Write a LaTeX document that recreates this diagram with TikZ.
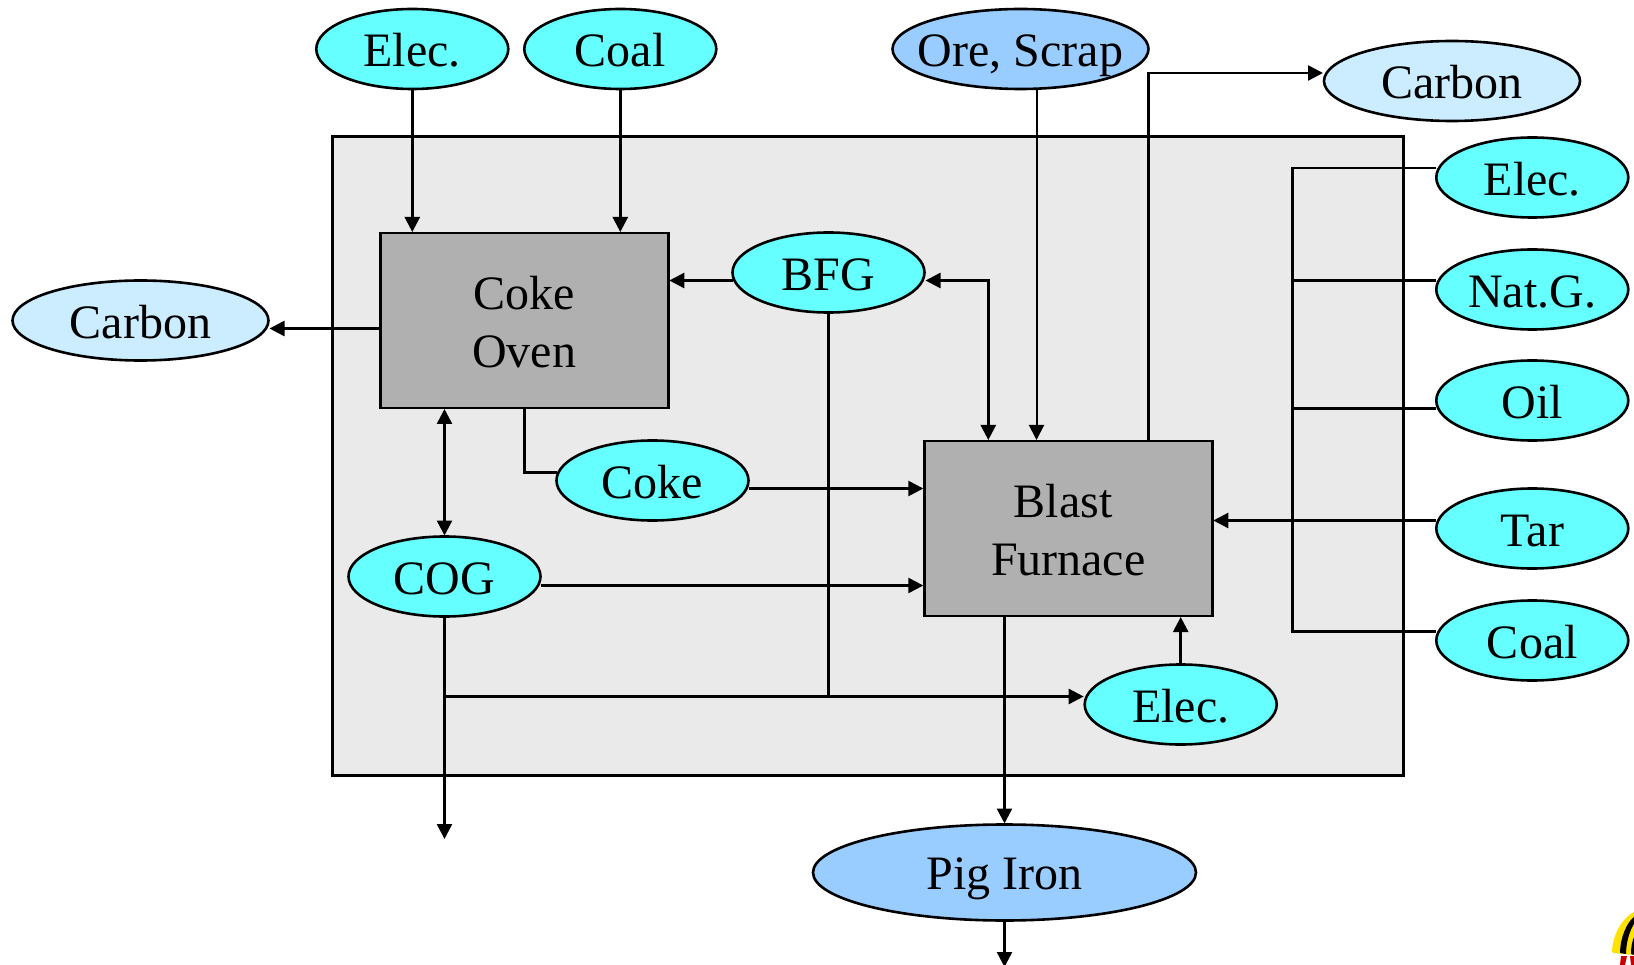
\documentclass[tikz,border=0pt]{standalone}
\usepackage{fontspec}
\setmainfont{Liberation Serif}
\usetikzlibrary{shapes.geometric,arrows.meta,positioning}
\definecolor{fuelcyan}{HTML}{66FFFF}
\definecolor{oreblue}{HTML}{99CCFF}
\definecolor{carbonblue}{HTML}{CCECFF}
\definecolor{unitgray}{HTML}{B0B0B0}
\definecolor{plantgray}{HTML}{EAEAEA}
\tikzset{
  oval/.style={draw, ellipse, line width=2.6pt, outer sep=0pt, inner sep=0pt, minimum width=192pt, minimum height=80pt, text height=36pt, text depth=0pt, fill=fuelcyan, font=\fontsize{48}{58}\selectfont},
  wideoval/.style={oval, inner xsep=-20pt, minimum width=256pt},
  unit/.style={draw, rectangle, line width=2.6pt, outer sep=0pt, inner sep=0pt, minimum width=288pt, minimum height=175pt, fill=unitgray, align=center, font=\fontsize{48}{58}\selectfont},
  flow/.style={-{Triangle[length=15pt,width=15pt]}, line width=2.5pt, shorten >=1pt},
  twoway/.style={{Triangle[length=15pt,width=15pt]}-{Triangle[length=15pt,width=15pt]}, line width=2.5pt, shorten >=1pt, shorten <=1pt},
  bus/.style={line width=2.5pt}
}
\begin{document}
\begin{tikzpicture}[x=1pt,y=-1pt]
  \useasboundingbox (0,0) rectangle (1634,965);

  % Plant boundary
  \node[draw, rectangle, line width=2.6pt, outer sep=0pt, minimum width=1071pt, minimum height=639pt, fill=plantgray] (Plant) at (868,456) {};

  % Process units
  \node[unit] (CokeOven) at (524.3,320.5) {\rule{0pt}{36pt}Coke\\Oven};
  \node[unit] (BlastFurnace) at (1068.3,528.5) {\rule{0pt}{36pt}Blast\hspace*{10pt}\\Furnace};

  % Inputs on top
  \node[oval] (ElecTop) at (412.3,49) {Elec.};
  \node[oval, right=16pt of ElecTop] (CoalTop) {Coal};
  \node[wideoval, fill=oreblue] (OreScrap) at (1020.5,49) {Ore, Scrap};

  % Carbon outputs
  \node[wideoval, fill=carbonblue] (CarbonRight) at (1452,81) {Carbon};
  \node[wideoval, fill=carbonblue] (CarbonLeft) at (140.5,320.5) {Carbon};

  % Fuels on the right
  \node[oval] (ElecRight) at (1532.3,177.5) {Elec.};
  \node[oval, below=32pt of ElecRight] (NatGas) {Nat.G.};
  \node[oval, below=31pt of NatGas] (OilRight) {Oil};
  \node[oval, below=48pt of OilRight] (TarRight) {Tar};
  \node[oval, below=32pt of TarRight] (CoalRight) {Coal};

  % Inner ovals
  \node[oval] (BFG) at (828.5,272.5) {BFG};
  \node[oval] (Coke) at (652.5,480.5) {Coke};
  \node[oval] (COG) at (444.5,576.5) {COG};
  \node[oval] (ElecLow) at (1180.7,704.5) {Elec.};

  % Pig iron
  \node[oval, text height=33pt, minimum width=383pt, minimum height=96pt, fill=oreblue] (PigIron) at (1004.5,872.5) {Pig Iron};

  % Free ends
  \coordinate (BusTop) at (1292.5,168);
  \coordinate (COGOut) at (444.5,840);
  \coordinate (PigOut) at (1004.5,967);

  % Inputs to the units
  \draw[flow] (ElecTop.south) -- (ElecTop.south |- CokeOven.north);
  \draw[flow] (CoalTop.south) -- (CoalTop.south |- CokeOven.north);
  \draw[flow, line width=2pt] ([xshift=16pt]OreScrap.south) -- ([xshift=16pt]OreScrap.south |- BlastFurnace.north);

  % Carbon outputs
  \draw[flow] ([xshift=80pt]BlastFurnace.north) |- ([yshift=8pt]CarbonRight.west);
  \draw[flow] ([yshift=-8pt]CokeOven.west) -- ([yshift=-8pt]CarbonLeft.east);

  % Fuel bus on the right
  \draw[bus] ([yshift=9.5pt]ElecRight.west) -- (BusTop) |- ([yshift=9pt]CoalRight.west);
  \draw[bus] ([yshift=9pt]NatGas.west) -- ([yshift=9pt]NatGas.west -| BusTop);
  \draw[bus] ([yshift=-8pt]OilRight.west) -- ([yshift=-8pt]OilRight.west -| BusTop);
  \draw[flow] ([yshift=8pt]TarRight.west) -- ([yshift=8pt]TarRight.west -| BlastFurnace.east);

  % Gases
  \draw[flow] ([yshift=-8pt]BFG.west) -- ([yshift=-8pt]BFG.west -| CokeOven.east);
  \draw[twoway] ([yshift=-8pt]BFG.east) -| ([xshift=-80pt]BlastFurnace.north);
  \draw[bus] (BFG.south) -- ([yshift=8pt]BFG.south |- ElecLow.west);
  \draw[twoway] (COG.north) -- (COG.north |- CokeOven.south);
  \draw[flow] (COG.south) -- (COGOut);
  \draw[flow] ([yshift=8pt]COG.south |- ElecLow.west) -- ([yshift=8pt]ElecLow.west);
  \draw[flow] (ElecLow.north) -- (ElecLow.north |- BlastFurnace.south);

  % Coke and COG to the furnace
  \draw[bus] (CokeOven.south) |- ([yshift=8pt]Coke.west);
  \draw[flow] ([yshift=-8pt]Coke.east) -- ([yshift=-8pt]Coke.east -| BlastFurnace.west);
  \draw[flow] ([yshift=-9pt]COG.east) -- ([yshift=-9pt]COG.east -| BlastFurnace.west);

  % Pig iron out
  \draw[flow] (PigIron.north |- BlastFurnace.south) -- (PigIron.north);
  \draw[flow, shorten >=0pt] (PigIron.south) -- (PigOut);

  % Logo in the corner
  \fill[yellow!85!orange] (1612,951) .. controls (1613,932) and (1624,917) .. (1634,912) -- (1634,955) -- (1613,953) -- cycle;
  \fill[black] (1620,953) .. controls (1620,938) and (1627,922) .. (1634,917) -- (1634,924) .. controls (1630,930) and (1626,942) .. (1626,954) -- cycle;
  \fill[black] (1631,954) .. controls (1631,947) and (1632,942) .. (1634,937) -- (1634,955) -- cycle;
  \fill[red!80!black] (1621,956) -- (1627,956) -- (1625,965) -- (1620,965) -- cycle;
  \fill[red!80!black] (1630,956) -- (1634,956) -- (1634,965) -- (1631,965) -- cycle;
\end{tikzpicture}
\end{document}
